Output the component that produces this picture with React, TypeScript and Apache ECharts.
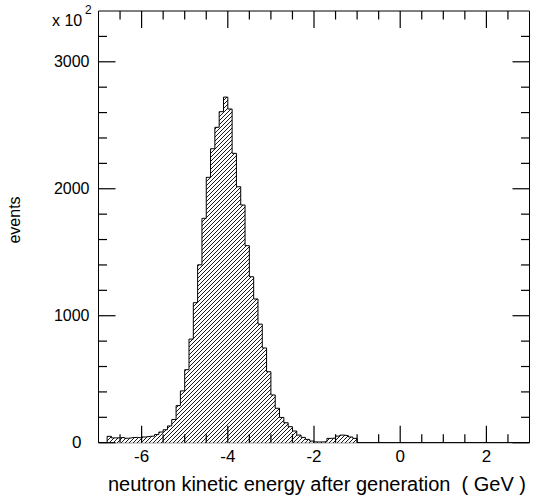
import React, { useEffect, useRef } from "react";
import * as echarts from "echarts";

// Histogram: bins of width 0.1 GeV starting at -7.0 (units: x 10^2 events)
const binStart = -7.0;
const binWidth = 0.1;
const counts: number[] = [
  0, 0, 50, 38, 38, 42, 35, 40, 42, 38, // -7.0 .. -6.1
  45, 50, 52, 64, 84, 102, 132, 183, 292, 408, // -6.0 .. -5.1
  575, 816, 1103, 1401, 1767, 2090, 2315, 2484, 2607, 2722, // -5.0 .. -4.1
  2628, 2279, 2016, 1872, 1552, 1307, 1132, 934, 746, 559, // -4.0 .. -3.1
  376, 271, 199, 157, 126, 92, 60, 42, 26, 13, // -3.0 .. -2.1
  6, 6, 8, 34, 36, 52, 60, 55, 45, 34, // -2.0 .. -1.1
  0, 0, 0, 0, 0, 0, 0, 0, 0, 0, // -1.0 .. -0.1
  0, 0, 0, 0, 0, 0, 0, 0, 0, 0, // 0.0 .. 0.9
  0, 0, 0, 0, 0, 0, 0, 0, 0, 0, // 1.0 .. 1.9
  0, 0, 0, 0, 0, 0, 0, 0, 0, 0, // 2.0 .. 2.9
];
const xMajorTicks = [-6, -4, -2, 0, 2];
const xMinorTicks = [-6.5, -5.5, -5, -4.5, -3.5, -3, -2.5, -1.5, -1, -0.5, 0.5, 1, 1.5, 2.5];
const yMajorTicks = [0, 1000, 2000, 3000];
const yMinorTicks = [200, 400, 600, 800, 1200, 1400, 1600, 1800, 2200, 2400, 2600, 2800, 3200];
const xTitle = "neutron kinetic energy after generation  ( GeV )";
const yTitle = "events";

const FONT = "'Liberation Sans', Arial, Helvetica, sans-serif";
const MAJOR_LEN = 17;
const MINOR_LEN = 8.5;
const X_MIN = -7;
const X_MAX = 3;
const Y_MIN = 0;
const Y_MAX = 3400;

function makeHatch(): HTMLCanvasElement {
  const c = document.createElement("canvas");
  c.width = 4;
  c.height = 4;
  const ctx = c.getContext("2d")!;
  ctx.fillStyle = "#ffffff";
  ctx.fillRect(0, 0, 4, 4);
  ctx.strokeStyle = "#000000";
  ctx.lineWidth = 0.9;
  ctx.beginPath();
  ctx.moveTo(0, 4);
  ctx.lineTo(4, 0);
  ctx.moveTo(-1, 1);
  ctx.lineTo(1, -1);
  ctx.moveTo(3, 5);
  ctx.lineTo(5, 3);
  ctx.stroke();
  return c;
}

export default function App() {
  const ref = useRef<HTMLDivElement>(null);
  useEffect(() => {
    if (!ref.current) return;
    const chart = echarts.init(ref.current, undefined, { renderer: "svg" });
    const data: [number, number][] = counts.map((v, i) => [
      +(binStart + i * binWidth).toFixed(2),
      v,
    ]);
    data.push([+(binStart + counts.length * binWidth).toFixed(2), 0]);

    chart.setOption({
      animation: false,
      backgroundColor: "#fff",
      grid: {
        left: 98.5,
        right: 3.5,
        top: 11,
        bottom: 57.3,
        show: true,
        borderColor: "#000",
        borderWidth: 1,
        backgroundColor: "transparent",
      },
      xAxis: {
        type: "value",
        min: X_MIN,
        max: X_MAX,
        splitLine: { show: false },
        axisLine: { show: false, onZero: false },
        axisTick: { show: false },
        axisLabel: {
          show: true,
          customValues: xMajorTicks,
          color: "#000",
          fontSize: 17,
          fontFamily: FONT,
          margin: 5,
        },
      },
      yAxis: {
        type: "value",
        min: Y_MIN,
        max: Y_MAX,
        splitLine: { show: false },
        axisLine: { show: false, onZero: false },
        axisTick: { show: false },
        axisLabel: {
          show: true,
          customValues: yMajorTicks,
          color: "#000",
          fontSize: 16,
          fontFamily: FONT,
          margin: 9,
          formatter: (v: number) => (v === 0 ? "{z|0}" : String(v)),
          rich: {
            z: { fontSize: 17, fontFamily: FONT, color: "#000", padding: [0, 8, 0, 0] },
          },
        },
      },
      series: [
        {
          type: "line",
          step: "end",
          symbol: "none",
          data,
          lineStyle: { color: "#000", width: 1 },
          areaStyle: {
            color: { image: makeHatch(), repeat: "repeat" },
            opacity: 1,
          },
          z: 1,
        },
      ],
    });

    // Ticks placed through the chart's own scales
    const conv = (x: number, y: number) =>
      chart.convertToPixel({ gridIndex: 0 }, [x, y]) as number[];
    const [left, bottom] = conv(X_MIN, Y_MIN);
    const [right, top] = conv(X_MAX, Y_MAX);
    const lineStyle = { stroke: "#000", lineWidth: 1.2 };
    const ticks: any[] = [];
    const addX = (v: number, len: number) => {
      const x = conv(v, 0)[0];
      ticks.push({ type: "line", silent: true, z: 50, shape: { x1: x, y1: bottom, x2: x, y2: bottom - len }, style: lineStyle });
      ticks.push({ type: "line", silent: true, z: 50, shape: { x1: x, y1: top, x2: x, y2: top + len }, style: lineStyle });
    };
    const addY = (v: number, len: number) => {
      const y = conv(X_MIN, v)[1];
      ticks.push({ type: "line", silent: true, z: 50, shape: { x1: left, y1: y, x2: left + len, y2: y }, style: lineStyle });
      ticks.push({ type: "line", silent: true, z: 50, shape: { x1: right, y1: y, x2: right - len, y2: y }, style: lineStyle });
    };
    xMajorTicks.forEach((v) => addX(v, MAJOR_LEN));
    xMinorTicks.forEach((v) => addX(v, MINOR_LEN));
    yMajorTicks.forEach((v) => addY(v, MAJOR_LEN));
    yMinorTicks.forEach((v) => addY(v, MINOR_LEN));

    chart.setOption({
      graphic: [
        ...ticks,
        {
          type: "text",
          x: 108,
          y: 474,
          silent: true,
          style: {
            text: xTitle,
            fontSize: 20,
            fontFamily: FONT,
            fill: "#000",
          },
        },
        {
          type: "text",
          x: 14,
          y: 220,
          rotation: Math.PI / 2,
          style: {
            text: yTitle,
            fontSize: 16,
            fontFamily: FONT,
            fill: "#000",
            align: "center",
            verticalAlign: "middle",
          },
        },
        {
          type: "text",
          x: 52,
          y: 12,
          style: {
            text: "x 10",
            fontSize: 16,
            fontFamily: FONT,
            fill: "#000",
          },
        },
        {
          type: "text",
          x: 85,
          y: 4,
          style: {
            text: "2",
            fontSize: 12,
            fontFamily: FONT,
            fill: "#000",
          },
        },
      ],
    });
    return () => chart.dispose();
  }, []);
  return (
    <div
      ref={ref}
      style={{ position: "fixed", left: 0, top: 0, width: 533, height: 500, background: "#fff" }}
    />
  );
}
